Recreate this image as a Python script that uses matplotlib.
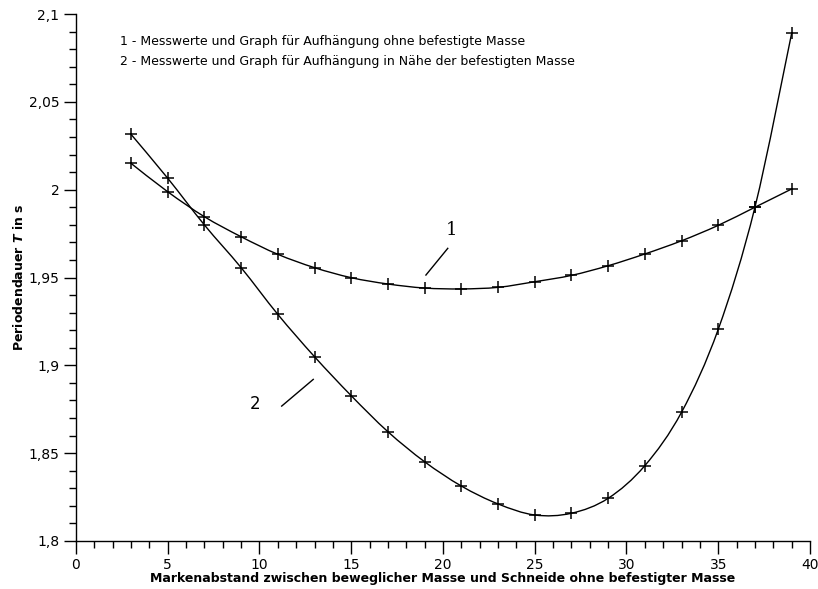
import matplotlib
matplotlib.use("Agg")
import matplotlib.pyplot as plt
import numpy as np
from matplotlib.path import Path
from matplotlib.patches import PathPatch
from matplotlib.ticker import MultipleLocator, FuncFormatter

# Data
x_vals = [3, 5, 7, 9, 11, 13, 15, 17, 19, 21, 23, 25, 27, 29, 31, 33, 35, 37, 39]
t_ohne = [2.0150, 1.9988, 1.9846, 1.9732, 1.9632, 1.9556, 1.9499, 1.9463, 1.9440,
          1.9435, 1.9444, 1.9476, 1.9512, 1.9567, 1.9634, 1.9709, 1.9797, 1.9900, 2.0004]
t_naehe = [2.0315, 2.0065, 1.9799, 1.9556, 1.9290, 1.9049, 1.8827, 1.8622, 1.8451,
           1.8313, 1.8211, 1.8148, 1.8158, 1.8243, 1.8429, 1.8733, 1.9205, 1.9900, 2.0890]
legend_lines = ["1 - Messwerte und Graph für Aufhängung ohne befestigte Masse",
                "2 - Messwerte und Graph für Aufhängung in Nähe der befestigten Masse"]
x_label = "Markenabstand zwischen beweglicher Masse und Schneide ohne befestigter Masse"
y_label = r"Periodendauer $\boldsymbol{T}$ in s"


def smooth_path(xs, ys):
    pts = np.column_stack([xs, ys]).astype(float)
    n = len(pts)
    verts = [pts[0]]
    codes = [Path.MOVETO]
    for i in range(n - 1):
        p0 = pts[i - 1] if i > 0 else pts[i]
        p1 = pts[i]
        p2 = pts[i + 1]
        p3 = pts[i + 2] if i + 2 < n else pts[i + 1]
        c1 = p1 + (p2 - p0) / 6.0
        c2 = p2 - (p3 - p1) / 6.0
        verts += [c1, c2, p2]
        codes += [Path.CURVE4] * 3
    return Path(verts, codes)


fig = plt.figure(figsize=(8.18, 5.89), dpi=100)
ax = fig.add_axes([0.0929, 0.0815, 0.8973, 0.8947])

for ys in (t_ohne, t_naehe):
    ax.add_patch(PathPatch(smooth_path(x_vals, ys), facecolor="none",
                           edgecolor="black", lw=1.0, transform=ax.transData))
    ax.plot(x_vals, ys, linestyle="none", marker="+", color="black",
            markersize=8, markeredgewidth=1.1)

ax.set_xlim(0, 40)
ax.set_ylim(1.8, 2.1)
ax.spines["top"].set_visible(False)
ax.spines["right"].set_visible(False)
for s in ("left", "bottom"):
    ax.spines[s].set_linewidth(1.0)

ax.xaxis.set_major_locator(MultipleLocator(5))
ax.xaxis.set_minor_locator(MultipleLocator(1))
ax.yaxis.set_major_locator(MultipleLocator(0.05))
ax.yaxis.set_minor_locator(MultipleLocator(0.01))


def comma_fmt(v, pos):
    s = f"{v:.2f}".rstrip("0").rstrip(".")
    return s.replace(".", ",")


ax.yaxis.set_major_formatter(FuncFormatter(comma_fmt))
ax.xaxis.set_major_formatter(FuncFormatter(lambda v, p: f"{int(round(v))}"))
ax.tick_params(which="major", direction="out", length=9, width=1.0, labelsize=10, pad=3)
ax.tick_params(which="minor", direction="out", length=5, width=1.0)

ax.set_xlabel(x_label, fontsize=9, fontweight="bold", labelpad=0)
ax.set_ylabel(y_label, fontsize=9, fontweight="bold", labelpad=2)

fig.text(120 / 818, 1 - 42 / 589, legend_lines[0], fontsize=9, va="center", ha="left")
fig.text(120 / 818, 1 - 61 / 589, legend_lines[1], fontsize=9, va="center", ha="left")

# curve annotations
ax.plot([19.07, 20.26], [1.9514, 1.9666], color="black", lw=1.0)
ax.text(20.44, 1.9770, "1", family="DejaVu Serif", fontsize=13, ha="center", va="center")
ax.plot([11.21, 12.93], [1.8768, 1.8920], color="black", lw=1.0)
ax.text(9.75, 1.878, "2", fontsize=12, ha="center", va="center")

fig.savefig("out.png", dpi=100)
